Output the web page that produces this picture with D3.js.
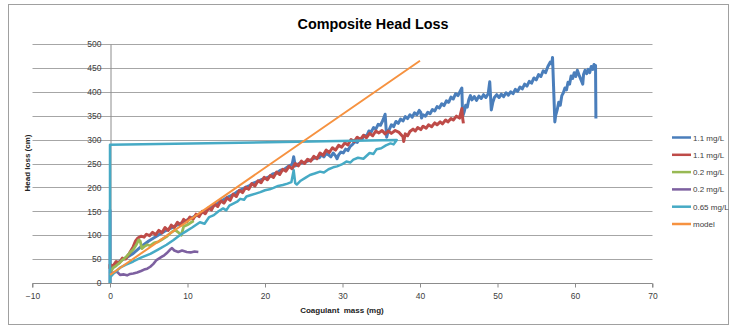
<!DOCTYPE html>
<html>
<head>
<meta charset="utf-8">
<script src="https://cdnjs.cloudflare.com/ajax/libs/d3/7.8.5/d3.min.js"></script>
<style>
    body { margin: 0; background: #fff; }
    text { font-family: "Liberation Sans", Arial, sans-serif; }
</style>
</head>
<body>
<div id="chart-container"></div>
<script>
//Series names and colours (legend order)
var seriesNames = ["1.1 mg/L", "1.1 mg/L", "0.2 mg/L", "0.2 mg/L", "0.65 mg/L", "model"];
var seriesColors = ["#4A7EBB", "#BE4B48", "#98B954", "#7D60A0", "#46AAC5", "#F69240"];

//Tick labels
var xTicks = [-10, 0, 10, 20, 30, 40, 50, 60, 70];
var yTicks = [0, 50, 100, 150, 200, 250, 300, 350, 400, 450, 500];

//Data: [coagulant mass (mg), head loss (cm)]
var blue11 = [[0,0],[0,152],[0,140],[0,25],[0.5,35],[1,42],[1.5,48],[2,52],[3,62],[4,76],[5,88],[6,98],[7,108],[8,116],[9,124],[10,132],[11,140],[12,148],[13,158],[14,168],[15,178],[15.5,182],[16,186],[16.5,192],[17,196],[17.5,200],[18,204],[18.5,209],[19,212],[19.5,216],[20,219],[20.5,222],[21,228],[21.5,230],[22,236],[22.5,238],[23,244],[23.5,248],[23.7,264],[23.9,245],[24.4,250],[25,252],[25.5,255],[26,258],[26.5,262],
    [27,262],[27.3,268],[27.6,264],[27.9,271],[28.2,268],[28.5,264],[28.8,272],[29.1,266],[29.3,260],[29.5,268],[29.8,274],[30.1,272],[30.4,280],[30.7,277],[31,286],[31.3,290],[31.6,296],[31.9,294],[32.2,302],[32.5,300],[32.8,309],[33.1,307],[33.4,318],[33.7,316],[34,325],[34.3,322],[34.6,332],[34.9,330],[35.2,340],[35.5,353],[35.7,305],[35.9,318],
    [36,320],[36.3,331],[36.6,327],[36.9,338],[37.2,334],[37.5,343],[37.8,339],[38.1,348],[38.4,344],[38.7,352],[39,347],[39.3,356],[39.6,352],[39.9,361],[40.1,357],[40.2,345],[40.4,352],[40.7,349],[41,357],[41.3,354],[41.6,363],[41.9,360],[42.2,369],[42.5,366],[42.8,375],[43.1,371],[43.4,381],[43.7,378],[44,389],[44.3,385],[44.6,396],[44.9,392],[45.2,402],[45.4,408],[45.5,348],[45.7,358],[45.9,372],[46.1,368],[46.3,384],[46.5,392],[46.7,383],[47,390],[47.3,382],[47.6,391],[47.9,386],[48.2,394],[48.5,388],[48.8,396],[49,421],[49.2,362],[49.4,378],[49.6,388],[49.9,394],[50.2,388],[50.5,395],[50.8,390],[51.1,398],[51.4,393],[51.7,400],[52,396],[52.3,405],[52.6,401],[52.9,410],[53.2,406],[53.5,416],[53.8,412],[54.1,422],[54.4,418],[54.7,429],[55,425],[55.3,436],[55.6,432],[55.9,444],[56.2,440],[56.5,453],[56.8,462],[57,458],[57.1,472],[57.4,337],[57.5,350],[57.7,362],[57.9,378],[58.1,372],[58.3,392],[58.5,398],[58.7,408],[58.9,404],[59.1,420],[59.3,416],[59.5,433],[59.7,428],[59.9,440],[60.1,432],[60.3,445],[60.5,436],[60.7,428],[60.9,420],[61,416],[61.1,436],[61.3,445],[61.5,438],[61.7,447],[61.9,440],[62.1,453],[62.3,447],[62.45,457],[62.6,449],[62.65,455],[62.7,344]];

var red11 = [[0,30],[0,38],[0.4,36],[0.8,45],[1.2,42],[1.6,52],[2,50],[2.5,62],[3,76],[3.3,88],[3.6,94],[4,98],[4.4,96],[4.7,102],
    [5.1,99],[5.5,106],[5.9,101],[6.3,110],[6.7,105],[7.1,116],[7.5,110],[7.9,121],[8.3,116],[8.7,127],[9.1,121],[9.5,133],[9.9,128],[10.3,138],[10.7,133],[11.1,144],[11.5,139],[11.9,150],[12.3,145],[12.7,157],[13.1,153],[13.5,165],[13.9,160],[14.3,172],[14.7,167],[15.1,178],[15.5,173],[15.9,186],[16.3,181],[16.7,194],[17.1,189],[17.5,200],[17.9,196],[18.3,208],[18.7,203],[19.1,214],[19.5,210],[19.9,221],[20.3,216],[20.7,225],[21.1,221],[21.5,232],[21.9,227],[22.3,238],[22.7,234],[23.1,244],[23.5,239],[23.9,250],[24.3,245],[24.7,255],[25.1,250],[25.5,259],[25.9,255],[26.3,265],[26.7,260],[27.1,272],[27.5,267],[27.9,278],[28.3,273],[28.7,283],[29.1,278],[29.5,288],[29.9,284],[30.3,293],[30.7,289],[31.1,300],[31.5,296],[31.9,305],[32.3,300],[32.7,309],[33.1,304],[33.5,313],[33.9,308],[34.3,318],[34.7,314],[35.1,319],[35.5,312],[35.9,318],[36.3,313],[36.8,319],[37.3,315],
    [37.8,306],[37.9,296],[38.1,312],[38.4,308],[38.7,317],[39.1,322],[39.4,318],[39.7,325],[40.1,321],[40.4,328],[40.8,324],[41.1,331],[41.5,327],[41.9,335],[42.2,331],[42.6,337],[42.9,333],[43.3,341],[43.6,337],[44,344],[44.3,341],[44.7,349],[45.1,345],[45.4,365],[45.5,345],[45.6,334]];

var green02 = [[0,20],[0.4,32],[0.8,36],[1.2,42],[1.6,48],[2.1,55],[2.5,62],[3,70],[3.4,80],[3.7,90],[3.9,88],[4.1,72],[4.4,76],[4.8,80],[5.2,78],[5.7,84],[6.2,86],[6.6,90],[7,94],[7.3,97],[7.7,103],[8.1,108],[8.4,111],[8.8,106],[9.2,100],[9.5,118],[10,122],[10.4,126],[10.8,130]];

var purple02 = [[0,20],[0.5,22],[0.9,24],[1.3,17],[1.8,18],[2.2,16],[2.6,19],[3,20],[3.5,22],[4,25],[4.4,28],[4.8,30],[5.2,34],[5.6,40],[6,48],[6.4,52],[6.7,55],[7,58],[7.3,62],[7.7,69],[8,73],[8.3,68],[8.8,65],[9.3,68],[9.9,65],[10.4,64],[10.9,66],[11.4,65]];

var aqua065 = [[0,12],[0.6,22],[1.3,32],[2,38],[3,45],[4,53],[5.2,61],[6.2,70],[7.3,80],[8.2,90],[9,100],[9.8,108],[10.6,116],[11.6,127],[12.2,124],[12.8,138],[13.4,142],[14,150],[14.6,156],[15,152],[15.4,162],[15.9,166],[16.4,170],[16.8,176],[17.3,174],[17.6,181],[18.2,184],[18.8,187],[19.4,190],[20,194],[20.6,196],[21.1,199],[21.7,203],[22.3,205],[22.9,208],[23.4,211],[23.7,236],[23.9,209],[24.1,206],[24.6,214],[25.2,220],[25.8,226],[26.4,229],[27.1,233],[27.6,231],[28.2,238],[28.8,242],[29.3,244],[29.9,248],[30.5,254],[31,252],[31.4,258],[32,262],[32.7,260],[33.5,272],[34,270],[34.4,280],[35,282],[35.6,288],[36.2,292],[36.6,290],[37,299],[0,289],[0,240],[0,250],[0,0]];

var model = [[0,17],[5,73],[10,129],[15,185],[20,241],[25,297],[30,353],[35,409],[40,465]];

var allSeries = [blue11, red11, green02, purple02, aqua065, model];
var lineWidths = [3, 3, 2.8, 2.6, 2.5, 2];

//Chart size
var w = 730;
var h = 327;

var svg = d3.select("#chart-container").append("svg")
    .attr("width", w).attr("height", h);

//Outer border
svg.append("rect")
    .attr("x", 8.5).attr("y", 4.5)
    .attr("width", 720).attr("height", 320)
    .attr("fill", "#fff")
    .attr("stroke", "#a0a0a0");

//Scales
var xScale = d3.scaleLinear().domain([-10, 70]).range([32.5, 652.5]);
var yScale = d3.scaleLinear().domain([0, 500]).range([283, 44]);

//Gridlines
svg.append("g")
    .selectAll("line")
    .data(yTicks.slice(1))
    .enter()
    .append("line")
    .attr("x1", xScale(-10)).attr("x2", xScale(70))
    .attr("y1", function(d){ return Math.round(yScale(d)) + 0.5; })
    .attr("y2", function(d){ return Math.round(yScale(d)) + 0.5; })
    .attr("stroke", "#a6a6a6");

//X axis
var xAxis = d3.axisBottom(xScale).tickValues(xTicks).tickSize(4).tickPadding(5);
var gx = svg.append("g")
    .attr("transform", "translate(0," + (Math.round(yScale(0)) + 0.5) + ")")
    .call(xAxis);
gx.select(".domain").attr("stroke", "#8c8c8c").attr("d", "M" + xScale(-10) + ",4V0H" + xScale(70) + "V4");
gx.selectAll(".tick line").attr("stroke", "#8c8c8c");
gx.selectAll("text").attr("fill", "#404040").style("font-size", "8.5px");

//Y axis drawn at x = 0
var yAxis = d3.axisLeft(yScale).tickValues(yTicks).tickSize(0).tickPadding(9);
var gy = svg.append("g")
    .attr("transform", "translate(" + (Math.round(xScale(0)) + 0.5) + ",0)")
    .call(yAxis);
gy.select(".domain").attr("stroke", "#8c8c8c");
gy.selectAll("text").attr("fill", "#404040").style("font-size", "8.5px");

//Series lines
var line = d3.line()
    .x(function(d){ return xScale(d[0]); })
    .y(function(d){ return yScale(d[1]); });

svg.append("g")
    .selectAll("path")
    .data(allSeries)
    .enter()
    .append("path")
    .attr("d", line)
    .attr("fill", "none")
    .attr("stroke", function(d, i){ return seriesColors[i]; })
    .attr("stroke-width", function(d, i){ return lineWidths[i]; })
    .attr("stroke-linejoin", "round");

//Title
svg.append("text")
    .attr("x", 373).attr("y", 29)
    .attr("text-anchor", "middle")
    .attr("textLength", 151)
    .attr("lengthAdjust", "spacingAndGlyphs")
    .style("font-size", "15.5px")
    .style("font-weight", "bold")
    .text("Composite Head Loss");

//Axis titles
svg.append("text")
    .attr("x", 342).attr("y", 313)
    .attr("text-anchor", "middle")
    .style("font-size", "8px")
    .style("font-weight", "bold")
    .attr("fill", "#222")
    .attr("xml:space", "preserve")
    .text("Coagulant  mass (mg)");

svg.append("text")
    .attr("transform", "translate(30,163) rotate(-90)")
    .attr("text-anchor", "middle")
    .style("font-size", "8px")
    .style("font-weight", "bold")
    .attr("fill", "#222")
    .text("Head loss (cm)");

//Legend
var legend = svg.append("g")
    .selectAll("g")
    .data(seriesNames)
    .enter()
    .append("g")
    .attr("transform", function(d, i){ return "translate(672," + (137.5 + i * 17.3) + ")"; });

legend.append("line")
    .attr("x1", 0).attr("x2", 19)
    .attr("stroke", function(d, i){ return seriesColors[i]; })
    .attr("stroke-width", 2.5);

legend.append("text")
    .attr("x", 21).attr("y", 3)
    .style("font-size", "8px")
    .attr("fill", "#404040")
    .text(function(d){ return d; });
</script>
</body>
</html>
